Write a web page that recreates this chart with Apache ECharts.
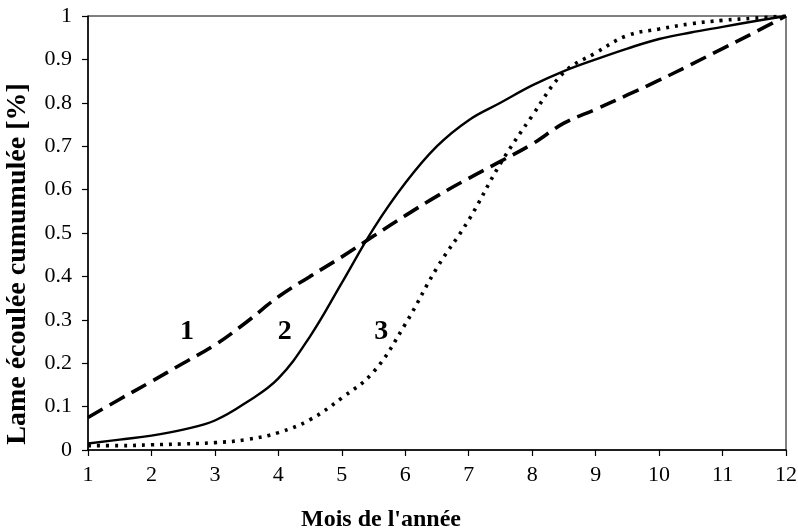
<!DOCTYPE html>
<html>
<head>
<meta charset="utf-8">
<script src="https://cdn.jsdelivr.net/npm/echarts@6/dist/echarts.min.js"></script>
<style>
html,body{margin:0;padding:0;background:#fff;}
#chart{width:798px;height:532px;}
</style>
</head>
<body>
<div id="chart"></div>
<script>
// Months (half-month sampling)
const months = [1,1.5,2,2.5,3,3.5,4,4.5,5,5.5,6,6.5,7,7.5,8,8.5,9,9.5,10,10.5,11,11.5,12];
// Curve 1 (long dashes)
const curve1 = [0.075,0.117,0.158,0.2,0.242,0.295,0.353,0.4,0.445,0.493,0.54,0.585,0.626,0.665,0.705,0.753,0.785,0.818,0.852,0.888,0.925,0.962,1.0];
// Curve 2 (solid)
const curve2 = [0.015,0.024,0.033,0.047,0.068,0.11,0.165,0.262,0.385,0.51,0.615,0.70,0.76,0.80,0.84,0.873,0.90,0.925,0.947,0.962,0.975,0.988,1.0];
// Curve 3 (dotted)
const curve3 = [0.01,0.01,0.012,0.014,0.017,0.024,0.04,0.07,0.12,0.18,0.29,0.42,0.53,0.66,0.77,0.87,0.915,0.955,0.97,0.982,0.99,0.995,1.0];
// Curve labels and their anchor points (data units)
const curveNames = ['1','2','3'];
const labelMonth = [2.56, 4.1, 5.62];
const labelValue = [0.272, 0.272, 0.272];
// Axis titles
const xTitle = "Mois de l'année";
const yTitle = "Lame écoulée cumumulée [%]";

const font = "'Liberation Serif', 'Times New Roman', serif";
const pairs = arr => months.map((m, i) => [m, arr[i]]);

const styles = [
  {data: curve1, width: 3.6, type: [17, 8]},
  {data: curve2, width: 2.4, type: 'solid'},
  {data: curve3, width: 3.6, type: [3, 6]}
];

const series = styles.map((s, i) => ({
  type: 'line',
  data: pairs(s.data),
  smooth: 0.4,
  showSymbol: false,
  silent: true,
  lineStyle: {color: '#000', width: s.width, type: s.type, cap: 'butt'},
  markPoint: {
    symbol: 'circle',
    symbolSize: 0,
    silent: true,
    label: {
      show: true,
      position: 'inside',
      formatter: curveNames[i],
      fontFamily: font,
      fontWeight: 'bold',
      fontSize: 28,
      color: '#000'
    },
    data: [{coord: [labelMonth[i], labelValue[i]]}]
  }
}));

const chart = echarts.init(document.getElementById('chart'), null, {renderer: 'canvas'});
chart.setOption({
  animation: false,
  backgroundColor: '#fff',
  grid: {left: 88, right: 12, top: 16, bottom: 82, containLabel: false, outerBoundsMode: 'none', show: true, borderColor: '#000', borderWidth: 1, backgroundColor: 'transparent'},
  xAxis: {
    type: 'value', min: 1, max: 12, interval: 1,
    name: xTitle, nameLocation: 'middle', nameGap: 58,
    nameTextStyle: {fontFamily: font, fontWeight: 'bold', fontSize: 24, color: '#000', padding: [0, 112, 0, 0]},
    axisLine: {show: true, lineStyle: {color: '#000', width: 1.5}},
    axisTick: {show: true, inside: false, length: 6, lineStyle: {color: '#000', width: 1.2}},
    axisLabel: {fontFamily: font, fontSize: 22, color: '#000', margin: 14},
    splitLine: {show: false}
  },
  yAxis: {
    type: 'value', min: 0, max: 1, interval: 0.1,
    name: yTitle, nameLocation: 'middle', nameGap: 56,
    nameTextStyle: {fontFamily: font, fontWeight: 'bold', fontSize: 28, color: '#000', padding: [0, 62, 0, 0]},
    axisLine: {show: true, lineStyle: {color: '#000', width: 1.5}},
    axisTick: {show: true, inside: false, length: 6, lineStyle: {color: '#000', width: 1.2}},
    axisLabel: {fontFamily: font, fontSize: 22, color: '#000', margin: 16, formatter: v => String(+v.toFixed(1))},
    splitLine: {show: false}
  },
  series: series
});
</script>
</body>
</html>
